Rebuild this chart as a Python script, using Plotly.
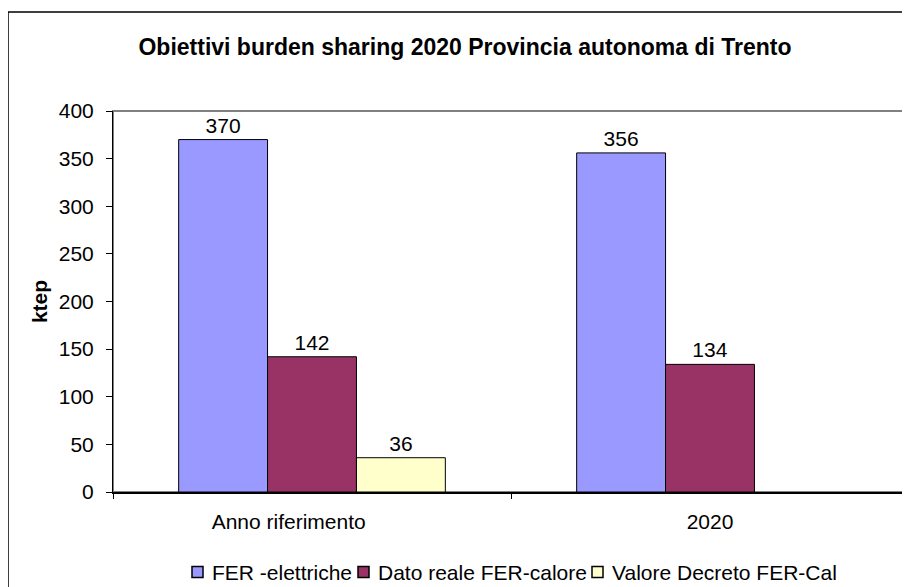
import plotly.graph_objects as go

categories = ["Anno riferimento", "2020"]
tick_labels = ["Anno riferimento" + "\u00a0" * 8, "2020"]
series_names = ["FER -elettriche", "Dato reale FER-calore", "Valore Decreto FER-Cal"]
fer_elettriche = [370, 356]
fer_calore = [142, 134]
valore_decreto = [36, None]
colors = ["#9999FF", "#993366", "#FFFFCC"]
y_ticks = [0, 50, 100, 150, 200, 250, 300, 350, 400]

# page body has an 8px margin, so the figure starts at (8, 8) on screen
OFF = 8
W, H = 910 - OFF, 587 - OFF
ml, mr, mt = 113 - OFF, 1, 111 - OFF
mb = H - (492 - OFF)
pw = W - ml - mr
ph = H - mt - mb
FONT = "Liberation Sans, Arial"
FS = 21

def px_x(x):
    return (x - OFF - ml) / pw

def px_y(y):
    return (H - mb - (y - OFF)) / ph

fig = go.Figure()
for name, vals, col in zip(series_names, [fer_elettriche, fer_calore, valore_decreto], colors):
    fig.add_trace(go.Bar(
        name=name, x=categories, y=vals, showlegend=False,
        marker=dict(color=col, line=dict(color="black", width=1)),
        text=[("" if v is None else str(v)) for v in vals],
        textposition="outside", cliponaxis=False,
        textfont=dict(family=FONT, size=FS, color="black"),
    ))

# legend drawn as keys + labels (screen px of each key's left edge)
legend_key_x = [192, 358, 592]
legend_y = 572
shapes = [
    dict(type="rect", xref="paper", yref="paper", x0=0, x1=1, y0=0, y1=1,
         line=dict(color="#808080", width=2), layer="below"),
    dict(type="rect", xref="paper", yref="paper",
         x0=px_x(8), x1=px_x(960), y0=px_y(12), y1=px_y(640),
         line=dict(color="black", width=1.5)),
]
annotations = []
for name, col, kx in zip(series_names, colors, legend_key_x):
    shapes.append(dict(type="rect", xref="paper", yref="paper",
                       x0=px_x(kx), x1=px_x(kx + 11),
                       y0=px_y(legend_y - 5.5), y1=px_y(legend_y + 5.5),
                       fillcolor=col, line=dict(color="black", width=1.5)))
    annotations.append(dict(text=name, xref="paper", yref="paper",
                            x=px_x(kx + 18), xanchor="left",
                            y=px_y(legend_y), yanchor="middle",
                            showarrow=False, font=dict(size=FS, family=FONT)))

fig.update_layout(
    width=W, height=H,
    margin=dict(l=ml, r=mr, t=mt, b=mb, autoexpand=False),
    paper_bgcolor="white", plot_bgcolor="white",
    barmode="group", bargap=0.33, bargroupgap=0,
    font=dict(family=FONT, size=FS, color="black"),
    title=dict(text="<b>Obiettivi burden sharing 2020 Provincia autonoma di Trento</b>",
               x=(465 - OFF) / W, xanchor="center", y=1 - (47 - OFF) / H, yanchor="middle",
               font=dict(size=23, family=FONT)),
    showlegend=False,
    xaxis=dict(showline=True, linecolor="black", linewidth=2, ticks="outside",
               tickson="boundaries", ticklen=5, tickcolor="black",
               tickvals=categories, ticktext=tick_labels, automargin=False,
               ticklabelstandoff=10,
               showgrid=False, tickfont=dict(size=FS)),
    yaxis=dict(range=[0, 400], tickvals=y_ticks, showline=True, linecolor="black",
               linewidth=1, ticks="outside", ticklen=6, tickcolor="black",
               showgrid=False, zeroline=False, tickfont=dict(size=FS),
               automargin=False, ticklabelstandoff=8,
               title=dict(text="<b>ktep</b>", font=dict(size=FS), standoff=5)),
    shapes=shapes,
    annotations=annotations,
)
fig.write_html("out.html")
